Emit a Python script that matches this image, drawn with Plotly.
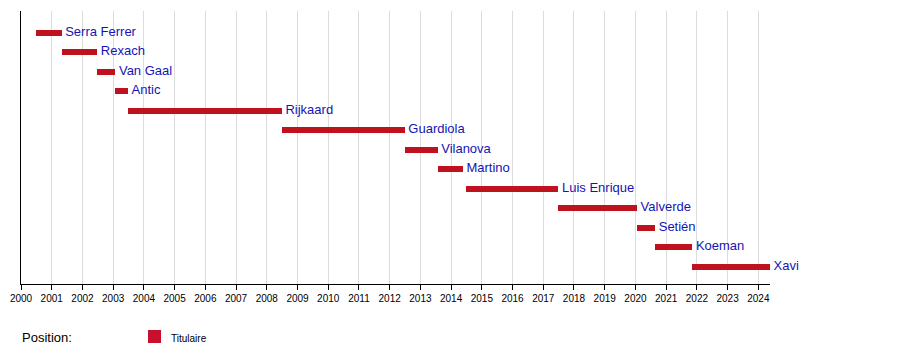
import plotly.graph_objects as go

coaches = ["Serra Ferrer", "Rexach", "Van Gaal", "Antic", "Rijkaard", "Guardiola",
           "Vilanova", "Martino", "Luis Enrique", "Valverde", "Setién", "Koeman", "Xavi"]
start = [2000.49, 2001.32, 2002.48, 2003.07, 2003.48, 2008.49, 2012.49, 2013.56,
         2014.50, 2017.49, 2020.05, 2020.64, 2021.85]
end = [2001.32, 2002.48, 2003.07, 2003.48, 2008.49, 2012.49, 2013.56, 2014.38,
       2017.49, 2020.05, 2020.64, 2021.85, 2024.38]
years = list(range(2000, 2025))
legend_title = "Position:"
legend_label = "Titulaire"

bar_color = "#c0111f"
text_color = "#1414b4"
font = "Liberation Sans, Arial, sans-serif"

# page body has an 8px default margin; compensate
OFF = 8
W, H = 900, 363
L, T = 21 - OFF, 11 - OFF
R = W - (770 - OFF)
B = H - (284 - OFF)
pw, ph = W - L - R, H - T - B


def px_x(x):
    return (x - OFF - L) / pw


def px_y(y):
    return 1 - (y - OFF - T) / ph


idx = list(range(len(coaches)))
fig = go.Figure()
fig.add_trace(go.Bar(
    y=idx, x=[e - s for s, e in zip(start, end)], base=start,
    orientation="h", width=0.31, marker=dict(color=bar_color, line=dict(width=0)),
    hoverinfo="skip", showlegend=False,
))
fig.add_trace(go.Scatter(
    y=idx, x=end, mode="text", text=["\u00a0" + c for c in coaches],
    textposition="middle right",
    textfont=dict(family=font, size=13, color=text_color),
    hoverinfo="skip", showlegend=False, cliponaxis=False,
))

fig.update_layout(
    width=W, height=H,
    margin=dict(l=L, r=R, t=T, b=B),
    paper_bgcolor="white", plot_bgcolor="white",
    font=dict(family=font, color="black"),
    bargap=0,
    xaxis=dict(range=[2000, 2024.38], tickmode="array", tickvals=years,
               ticktext=[str(y) for y in years], showgrid=True, gridcolor="#dcdcdc",
               gridwidth=1, zeroline=False, showline=True, linecolor="black", linewidth=1,
               ticks="outside", ticklen=5, tickcolor="black", tickfont=dict(size=10, family=font),
               fixedrange=True),
    yaxis=dict(range=[12.887, -1.113], showticklabels=False, showgrid=False, zeroline=False,
               showline=True, linecolor="black", linewidth=1, ticks="", fixedrange=True),
    annotations=[
        dict(x=px_x(20), y=px_y(337), xref="paper", yref="paper", text=legend_title,
             showarrow=False, font=dict(family=font, size=13, color="black"),
             xanchor="left", yanchor="middle"),
        dict(x=px_x(169), y=px_y(338), xref="paper", yref="paper", text=legend_label,
             showarrow=False, font=dict(family=font, size=10, color="black"),
             xanchor="left", yanchor="middle"),
    ],
)
fig.add_shape(type="rect", xref="paper", yref="paper",
              x0=px_x(148), x1=px_x(161), y0=px_y(343), y1=px_y(330),
              fillcolor="#c8102e", line=dict(width=0))

fig.write_html("out.html")
